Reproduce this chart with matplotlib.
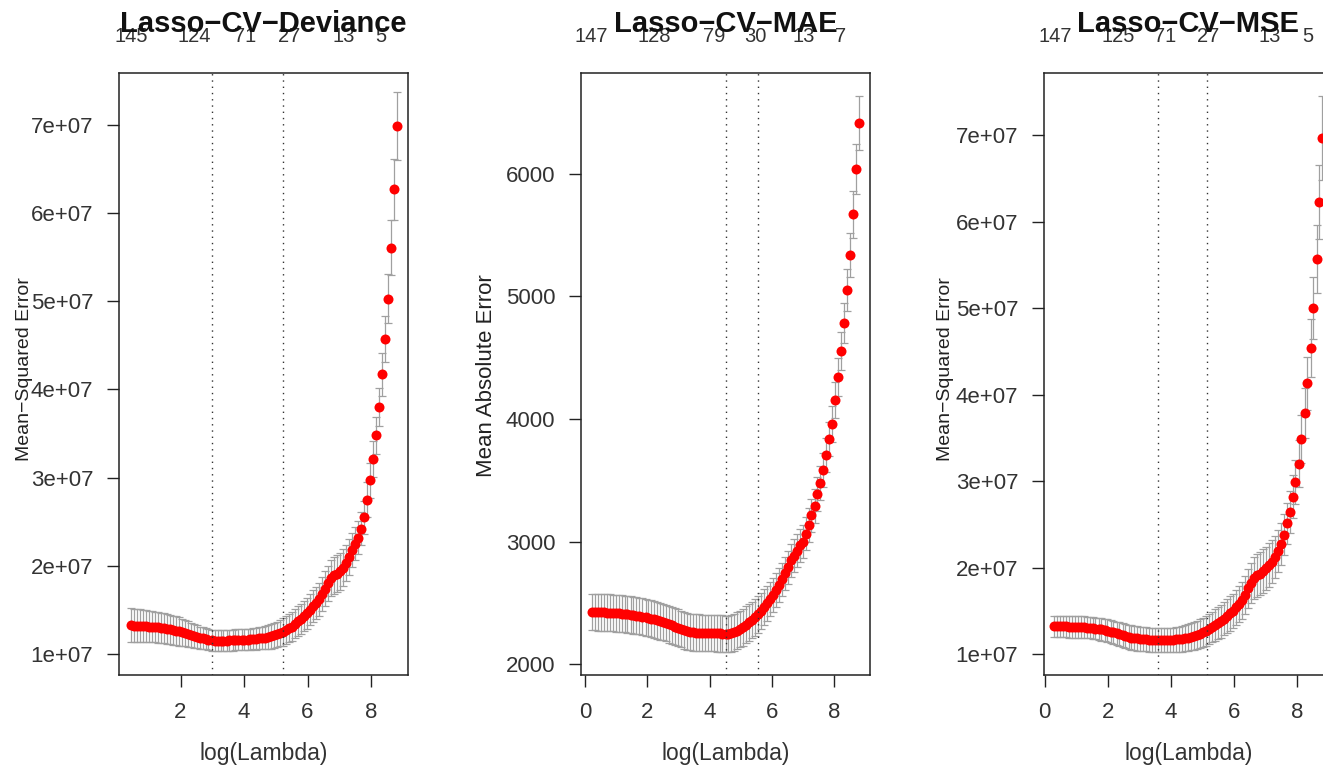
import matplotlib
matplotlib.use("Agg")
import matplotlib.pyplot as plt

plt.rcParams["font.family"] = ["Liberation Sans", "DejaVu Sans"]

E7 = 1e7

# ---------------- Lasso-CV-Deviance (values in units of 1e7)
dev_loglam = [0.44, 0.53, 0.63, 0.72, 0.82, 0.91, 1.00, 1.10, 1.19, 1.29,
              1.38, 1.47, 1.57, 1.66, 1.76, 1.85, 1.94, 2.04, 2.13, 2.23,
              2.32, 2.41, 2.51, 2.60, 2.70, 2.79, 2.88, 2.98, 3.07, 3.17,
              3.26, 3.35, 3.45, 3.54, 3.64, 3.73, 3.82, 3.92, 4.01, 4.11,
              4.20, 4.29, 4.39, 4.48, 4.58, 4.67, 4.76, 4.86, 4.95, 5.05,
              5.14, 5.23, 5.33, 5.42, 5.52, 5.61, 5.70, 5.80, 5.89, 5.99,
              6.08, 6.17, 6.27, 6.36, 6.46, 6.55, 6.64, 6.74, 6.83, 6.93,
              7.02, 7.11, 7.21, 7.30, 7.40, 7.49, 7.58, 7.68, 7.77, 7.87,
              7.96, 8.05, 8.15, 8.24, 8.34, 8.43, 8.52, 8.62, 8.71, 8.81]
dev_mean = [1.325, 1.32, 1.32, 1.32, 1.315, 1.315, 1.31, 1.31, 1.305, 1.30,
            1.295, 1.29, 1.285, 1.28, 1.27, 1.265, 1.255, 1.245, 1.235, 1.225,
            1.215, 1.205, 1.195, 1.185, 1.175, 1.17, 1.16, 1.155, 1.15, 1.15,
            1.15, 1.15, 1.15, 1.155, 1.155, 1.16, 1.16, 1.16, 1.16, 1.16,
            1.165, 1.17, 1.17, 1.175, 1.18, 1.185, 1.19, 1.20, 1.21, 1.22,
            1.235, 1.25, 1.27, 1.29, 1.31, 1.34, 1.37, 1.40, 1.43, 1.46,
            1.50, 1.54, 1.58, 1.62, 1.68, 1.74, 1.80, 1.86, 1.89, 1.91,
            1.94, 1.98, 2.03, 2.10, 2.18, 2.25, 2.32, 2.42, 2.55, 2.75,
            2.97, 3.21, 3.48, 3.80, 4.17, 4.57, 5.03, 5.61, 6.27, 6.99]
dev_se = [0.19, 0.19, 0.19, 0.185, 0.185, 0.18,
          0.18, 0.18, 0.175, 0.175, 0.17, 0.17,
          0.17, 0.165, 0.165, 0.165, 0.16, 0.155,
          0.15, 0.145, 0.14, 0.135, 0.13, 0.125,
          0.125, 0.12, 0.12, 0.12, 0.12, 0.12,
          0.12, 0.12, 0.12, 0.12, 0.12, 0.12,
          0.12, 0.12, 0.12, 0.12, 0.12, 0.12,
          0.125, 0.125, 0.13, 0.13, 0.135, 0.14,
          0.14, 0.145, 0.15, 0.155, 0.16, 0.16,
          0.165, 0.165, 0.17, 0.17, 0.17, 0.175,
          0.175, 0.18, 0.18, 0.185, 0.19, 0.195,
          0.2, 0.2, 0.205, 0.21, 0.21, 0.21,
          0.2, 0.2, 0.195, 0.19, 0.19, 0.19,
          0.19, 0.2, 0.2, 0.2, 0.21, 0.22,
          0.24, 0.26, 0.28, 0.31, 0.35, 0.39]
dev_vlines = [3.00, 5.22]
dev_top_at = [0.44, 2.44, 4.02, 5.42, 7.13, 8.30]
dev_top_lab = ["145", "124", "71", "27", "13", "5"]

# ---------------- Lasso-CV-MAE
mae_loglam = [0.22, 0.32, 0.41, 0.51, 0.60, 0.70, 0.79, 0.89, 0.98, 1.08,
              1.17, 1.27, 1.36, 1.46, 1.55, 1.65, 1.74, 1.84, 1.94, 2.03,
              2.13, 2.22, 2.32, 2.41, 2.51, 2.60, 2.70, 2.79, 2.89, 2.98,
              3.08, 3.17, 3.27, 3.36, 3.46, 3.56, 3.65, 3.75, 3.84, 3.94,
              4.03, 4.13, 4.22, 4.32, 4.41, 4.51, 4.60, 4.70, 4.79, 4.89,
              4.99, 5.08, 5.18, 5.27, 5.37, 5.46, 5.56, 5.65, 5.75, 5.84,
              5.94, 6.03, 6.13, 6.22, 6.32, 6.41, 6.51, 6.61, 6.70, 6.80,
              6.89, 6.99, 7.08, 7.18, 7.27, 7.37, 7.46, 7.56, 7.65, 7.75,
              7.84, 7.94, 8.03, 8.13, 8.22, 8.32, 8.41, 8.51, 8.60, 8.70, 8.80]
mae_mean = [2425, 2424, 2423, 2422, 2421, 2420, 2419, 2417, 2415, 2413,
            2411, 2408, 2405, 2402, 2399, 2395, 2391, 2387, 2382, 2376,
            2370, 2364, 2357, 2350, 2343, 2335, 2325, 2315, 2305, 2295,
            2285, 2276, 2268, 2262, 2258, 2256, 2255, 2254, 2253, 2253,
            2253, 2253, 2252, 2250, 2248, 2245, 2245, 2250, 2260, 2272,
            2285, 2300, 2320, 2340, 2360, 2380, 2405, 2430, 2465, 2495,
            2530, 2565, 2605, 2645, 2690, 2740, 2790, 2845, 2885, 2925,
            2970, 3000, 3065, 3135, 3215, 3290, 3388, 3478, 3584, 3706,
            3837, 3959, 4155, 4343, 4555, 4784, 5053, 5339, 5673, 6041, 6416]
mae_se = [150, 150, 150, 150, 150, 150, 150, 150, 150, 150,
          150, 150, 150, 150, 150, 150, 150, 150, 150, 150,
          150, 150, 150, 150, 150, 150, 150, 150, 150, 150,
          150, 150, 150, 150, 150, 150, 150, 150, 150, 150,
          150, 150, 150, 150, 150, 150, 150, 150, 150, 150,
          150, 150, 150, 150, 150, 150, 148, 146, 144, 142,
          140, 138, 137, 136, 135, 135, 135, 135, 135, 135,
          135, 135, 135, 135, 135, 135, 136, 137, 138, 139,
          141, 144, 148, 152, 158, 165, 173, 182, 192, 205, 220]
mae_vlines = [4.53, 5.55]
mae_top_at = [0.19, 2.22, 4.14, 5.46, 7.03, 8.22]
mae_top_lab = ["147", "128", "79", "30", "13", "7"]

# ---------------- Lasso-CV-MSE (values in units of 1e7)
mse_loglam = [0.29, 0.38, 0.48, 0.57, 0.67, 0.76, 0.86, 0.95, 1.05, 1.14,
              1.24, 1.33, 1.43, 1.52, 1.61, 1.71, 1.80, 1.90, 1.99, 2.09,
              2.18, 2.28, 2.37, 2.47, 2.56, 2.66, 2.75, 2.84, 2.94, 3.03,
              3.13, 3.22, 3.32, 3.41, 3.51, 3.60, 3.70, 3.79, 3.88, 3.98,
              4.07, 4.17, 4.26, 4.36, 4.45, 4.55, 4.64, 4.74, 4.83, 4.93,
              5.02, 5.11, 5.21, 5.30, 5.40, 5.49, 5.59, 5.68, 5.78, 5.87,
              5.97, 6.06, 6.16, 6.25, 6.35, 6.44, 6.54, 6.63, 6.73, 6.82,
              6.92, 7.01, 7.10, 7.20, 7.29, 7.39, 7.48, 7.58, 7.67, 7.77,
              7.86, 7.95, 8.05, 8.14, 8.24, 8.33, 8.43, 8.52, 8.62, 8.71, 8.80]
mse_mean = [1.32, 1.32, 1.32, 1.32, 1.32, 1.315, 1.315, 1.315, 1.31, 1.31,
            1.31, 1.305, 1.305, 1.30, 1.295, 1.29, 1.285, 1.28, 1.27, 1.26,
            1.25, 1.24, 1.23, 1.22, 1.21, 1.20, 1.19, 1.185, 1.18, 1.175,
            1.17, 1.17, 1.165, 1.165, 1.16, 1.16, 1.16, 1.16, 1.16, 1.165,
            1.165, 1.17, 1.17, 1.175, 1.18, 1.19, 1.20, 1.21, 1.22, 1.235,
            1.25, 1.265, 1.29, 1.31, 1.335, 1.36, 1.38, 1.41, 1.44, 1.47,
            1.50, 1.54, 1.58, 1.62, 1.68, 1.76, 1.82, 1.88, 1.91, 1.93,
            1.96, 1.99, 2.03, 2.07, 2.12, 2.19, 2.27, 2.38, 2.51, 2.64,
            2.82, 2.99, 3.20, 3.49, 3.79, 4.13, 4.54, 5.00, 5.57, 6.23, 6.97]
mse_se = [0.125, 0.125, 0.125, 0.125, 0.125, 0.125, 0.125, 0.125, 0.125, 0.125,
          0.125, 0.125, 0.125, 0.125, 0.125, 0.13, 0.13, 0.13, 0.13, 0.135,
          0.135, 0.135, 0.135, 0.14, 0.14, 0.14, 0.14, 0.14, 0.14, 0.14,
          0.14, 0.14, 0.14, 0.14, 0.14, 0.14, 0.14, 0.14, 0.14, 0.14,
          0.14, 0.145, 0.145, 0.15, 0.15, 0.155, 0.155, 0.16, 0.16, 0.165,
          0.17, 0.17, 0.175, 0.175, 0.18, 0.185, 0.19, 0.19, 0.195, 0.2,
          0.2, 0.205, 0.21, 0.215, 0.22, 0.225, 0.23, 0.24, 0.245, 0.25,
          0.25, 0.25, 0.25, 0.25, 0.245, 0.24, 0.24, 0.24, 0.24, 0.245,
          0.25, 0.26, 0.27, 0.28, 0.29, 0.31, 0.33, 0.36, 0.39, 0.43, 0.49]
mse_vlines = [3.58, 5.15]
mse_top_at = [0.33, 2.34, 3.81, 5.19, 7.14, 8.35]
mse_top_lab = ["147", "125", "71", "27", "13", "5"]

mse_yticks = [1, 2, 3, 4, 5, 6, 7]
mse_yticklabels = ["1e+07", "2e+07", "3e+07", "4e+07", "5e+07", "6e+07", "7e+07"]
mae_yticks = [2000, 3000, 4000, 5000, 6000]


def draw_panel(ax, x, m, se, scale, vlines, top_at, top_lab, title, ylabel,
               ylab_size, ylab_x, ylab_y):
    mm = [v * scale for v in m]
    ss = [v * scale for v in se]
    ax.errorbar(x, mm, yerr=ss, fmt="none", ecolor="#a0a0a0", elinewidth=0.9,
                capsize=3.2, capthick=0.9, zorder=2)
    ax.plot(x, mm, "o", color="#ff0000", ms=7.2, mew=0, zorder=3)
    for v in vlines:
        ax.axvline(v, color="#333333", lw=1.0, ls=(0, (1, 3.5)), zorder=4)
    tr = ax.get_xaxis_transform()
    for p, lab in zip(top_at, top_lab):
        ax.text(p, 1.052, lab, transform=tr, ha="center", va="baseline",
                fontsize=14.5, color="#333333")
    ax.text(0.5, 1.069, title, transform=ax.transAxes, ha="center",
            va="baseline", fontsize=21, fontweight="bold", color="#111111")
    ax.set_xlabel("log(Lambda)", fontsize=16.5, color="#333333")
    ax.xaxis.set_label_coords(0.5, -0.112)
    ax.set_ylabel(ylabel, fontsize=ylab_size, color="#222222")
    ax.yaxis.set_label_coords(ylab_x, ylab_y)
    for s in ax.spines.values():
        s.set_color("#222222")
        s.set_linewidth(1.1)
    ax.tick_params(axis="both", direction="out", length=8.5, width=1.0,
                   color="#222222", labelcolor="#333333", labelsize=16)
    ax.tick_params(axis="x", pad=11)
    ax.tick_params(axis="y", pad=10)


fig = plt.figure(figsize=(13.23, 7.69), dpi=100)
ax1 = fig.add_axes([0.0899, 0.1222, 0.2184, 0.7828])
ax2 = fig.add_axes([0.4392, 0.1222, 0.2184, 0.7828])
ax3 = fig.add_axes([0.7891, 0.1222, 0.2184, 0.7828])

draw_panel(ax1, dev_loglam, dev_mean, dev_se, E7, dev_vlines, dev_top_at,
           dev_top_lab, "Lasso\u2212CV\u2212Deviance", "Mean\u2212Squared Error",
           14, -0.298, 0.509)
ax1.set_xlim(0.06, 9.16)
ax1.set_ylim(0.76 * E7, 7.59 * E7)
ax1.set_xticks([2, 4, 6, 8])
ax1.set_yticks([t * E7 for t in mse_yticks])
ax1.set_yticklabels(mse_yticklabels)

draw_panel(ax2, mae_loglam, mae_mean, mae_se, 1, mae_vlines, mae_top_at,
           mae_top_lab, "Lasso\u2212CV\u2212MAE", "Mean Absolute Error",
           16, -0.291, 0.498)
ax2.set_xlim(-0.13, 9.15)
ax2.set_ylim(1910, 6824)
ax2.set_xticks([0, 2, 4, 6, 8])
ax2.set_yticks(mae_yticks)

draw_panel(ax3, mse_loglam, mse_mean, mse_se, E7, mse_vlines, mse_top_at,
           mse_top_lab, "Lasso\u2212CV\u2212MSE", "Mean\u2212Squared Error",
           14, -0.311, 0.509)
ax3.set_xlim(-0.02, 9.14)
ax3.set_ylim(0.757 * E7, 7.72 * E7)
ax3.set_xticks([0, 2, 4, 6, 8])
ax3.set_yticks([t * E7 for t in mse_yticks])
ax3.set_yticklabels(mse_yticklabels)

fig.savefig("out.png", dpi=100)
